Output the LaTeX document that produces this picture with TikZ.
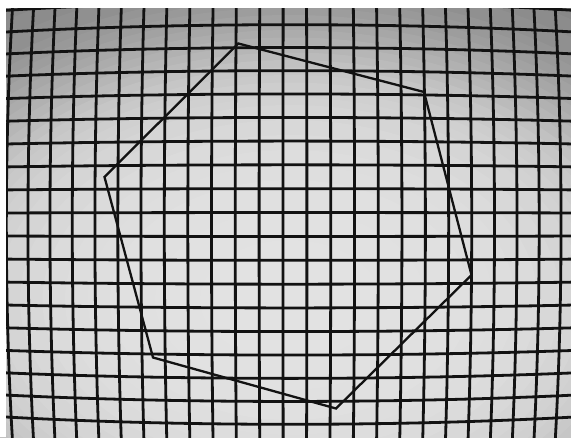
\documentclass[tikz,border=0pt]{standalone}
\usepackage{tikz}
\definecolor{ink}{gray}{0.07}
\tikzset{
  gridline/.style={draw=ink, line width=2.8pt},
  hexline/.style={draw=ink, line width=2.3pt, line join=miter},
}
\begin{document}
\begin{tikzpicture}[x=1pt,y=-1pt]
\useasboundingbox (0,0) rectangle (571,437);
\begin{scope}
\clip (0,0) rectangle (571,437);
% vignetting: stepped elliptical rings, darkest outside
\foreach \r/\g in {1.5/0.52,1.25/0.525,1.175/0.535,1.125/0.55,1.075/0.565,1.025/0.585,
  1.0/0.60,0.975/0.615,0.95/0.635,0.925/0.655,0.9/0.675,0.875/0.695,0.85/0.715,
  0.825/0.735,0.8/0.755,0.775/0.775,0.75/0.79,0.725/0.805,0.7/0.815,0.675/0.825,
  0.65/0.835,0.6/0.848,0.55/0.858,0.5/0.866,0.45/0.872,0.4/0.877,0.3/0.882,0.2/0.886}{
  \definecolor{ringcol}{gray}{\g}
  \fill[ringcol] (290,300) ellipse [x radius=450*\r pt, y radius=300*\r pt];
}
% barrel-distorted grid (units of 100 px inside the formulas)
\def\cx{290}\def\cy{224.5}\def\kk{0.004}\def\ss{23.9}\def\uo{-7}
\foreach \i in {-13,...,13}{
  \pgfmathsetmacro{\U}{(\uo+\i*\ss)/100}
  \draw[gridline] plot[domain=-2.8:2.8, samples=41, variable=\t]
    ({\cx+100*\U*(1-\kk*(\U*\U+\t*\t))},{\cy+100*\t*(1-\kk*(\U*\U+\t*\t))});
}
\foreach \j in {-10,...,8}{
  \pgfmathsetmacro{\V}{(\j+0.5)*\ss/100}
  \draw[gridline] plot[domain=-3.4:3.4, samples=51, variable=\t]
    ({\cx+100*\t*(1-\kk*(\t*\t+\V*\V))},{\cy+100*\V*(1-\kk*(\t*\t+\V*\V))});
}
% hexagon
\coordinate (h1) at (238.3,43.5);
\coordinate (h2) at (424,92);
\coordinate (h3) at (471.5,275);
\coordinate (h4) at (336,408.5);
\coordinate (h5) at (153,357.5);
\coordinate (h6) at (104.5,177);
\draw[hexline] (h1) -- (h2) -- (h3) -- (h4) -- (h5) -- (h6) -- cycle;
% white margins
\fill[white] (0,0) rectangle (571,8);
\fill[white] (0,0) rectangle (6,437);
\end{scope}
\end{tikzpicture}
\end{document}
